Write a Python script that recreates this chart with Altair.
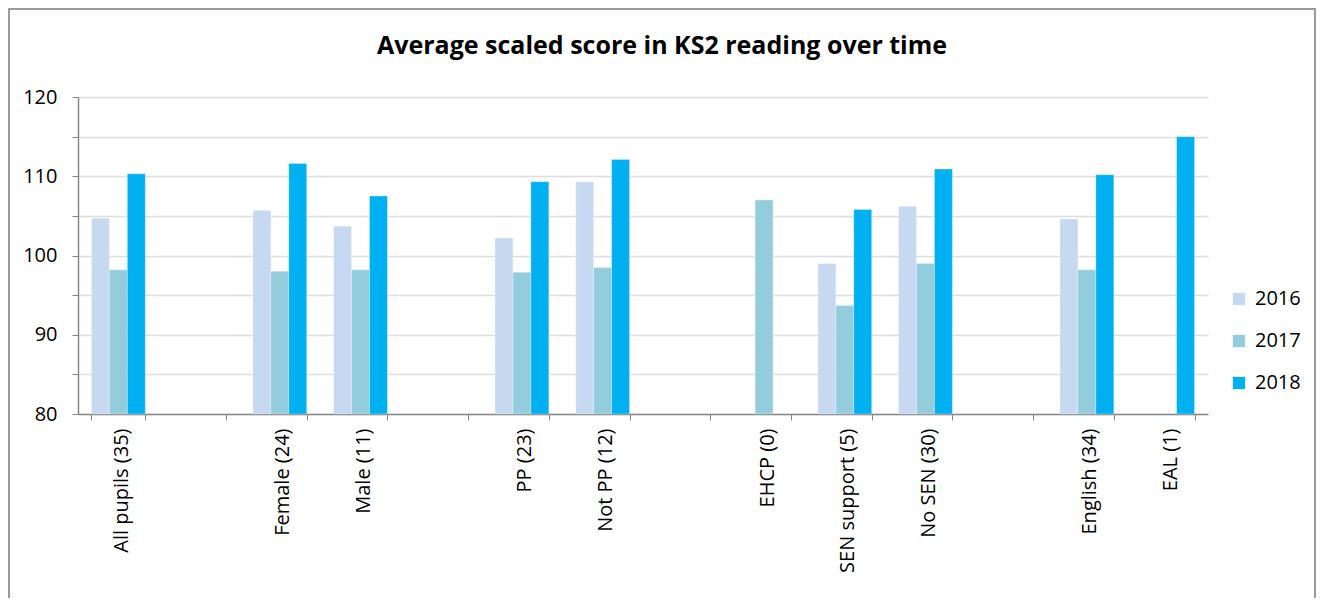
import altair as alt
import pandas as pd

categories = ["All pupils (35)", " ", "Female (24)", "Male (11)", "  ", "PP (23)", "Not PP (12)",
              "   ", "EHCP (0)", "SEN support (5)", "No SEN (30)", "    ", "English (34)", "EAL (1)"]
years = ["2016", "2017", "2018"]
v2016 = [104.7, None, 105.7, 103.7, None, 102.2, 109.3, None, None, 99.0, 106.2, None, 104.6, None]
v2017 = [98.2, None, 98.0, 98.2, None, 97.9, 98.5, None, 107.0, 93.7, 99.0, None, 98.2, None]
v2018 = [110.3, None, 111.6, 107.5, None, 109.3, 112.1, None, None, 105.8, 110.9, None, 110.2, 115.0]
colors = ["#C6D9F1", "#93CDDD", "#00B0F0"]

rows = []
for yr, vals in zip(years, [v2016, v2017, v2018]):
    for c, v in zip(categories, vals):
        rows.append({"group": c, "year": yr, "score": v})
df = pd.DataFrame(rows)

FONT = "Open Sans"

bars = alt.Chart(df).mark_bar(stroke="white", strokeWidth=0.5, strokeOpacity=0.6).encode(
    x=alt.X("group:N", sort=categories,
            scale=alt.Scale(domain=categories, paddingInner=0.333, paddingOuter=0.1667),
            axis=alt.Axis(title=None, labelAngle=-90, labelFontSize=20, labelFont=FONT,
                          labelColor="black", tickBand="extent", tickSize=6, tickColor="#888888",
                          domainColor="#888888", domainWidth=1.5, labelPadding=8, grid=False,
                          labelOffset=3)),
    xOffset=alt.XOffset("year:N", scale=alt.Scale(domain=years, paddingInner=0, paddingOuter=0)),
    y=alt.Y("score:Q", scale=alt.Scale(domain=[80, 120], zero=False, nice=False),
            axis=alt.Axis(title=None, values=[80, 85, 90, 95, 100, 105, 110, 115, 120],
                          labelExpr="datum.value % 10 == 0 ? datum.label : ''",
                          labelFontSize=20, labelFont=FONT, labelColor="black",
                          tickSize=6, tickColor="#888888", domainColor="#888888", domainWidth=1.5,
                          labelPadding=15, gridColor="#dedede", gridWidth=1.5)),
    y2=alt.Y2(datum=80),
    color=alt.Color("year:N", scale=alt.Scale(domain=years, range=colors),
                    legend=alt.Legend(title=None, orient="none", legendX=1151, legendY=192,
                                      symbolType="square", symbolSize=150, symbolStrokeWidth=0,
                                      labelFontSize=20, labelFont=FONT, labelColor="black",
                                      rowPadding=22, labelOffset=6)),
)

border = alt.Chart(pd.DataFrame({"a": [0]})).mark_rect(
    fillOpacity=0, stroke="#9a9a9a", strokeWidth=2
).encode(
    x=alt.value(-69), x2=alt.value(1237), y=alt.value(-88), y2=alt.value(560)
)

chart = alt.layer(bars, border).properties(
    width=1130, height=317,
    background="white",
    autosize=alt.AutoSizeParams(type="none"),
    padding={"left": 70, "top": 89, "right": 108, "bottom": 184},
    title=alt.TitleParams("Average scaled score in KS2 reading over time", fontSize=25,
                          font=FONT, fontWeight="bold", color="black", anchor="middle",
                          frame="bounds", baseline="alphabetic", offset=-70.5),
).configure_view(strokeWidth=0, stroke="transparent")

chart.save("out.html", embed_options={"renderer": "svg", "actions": False})
